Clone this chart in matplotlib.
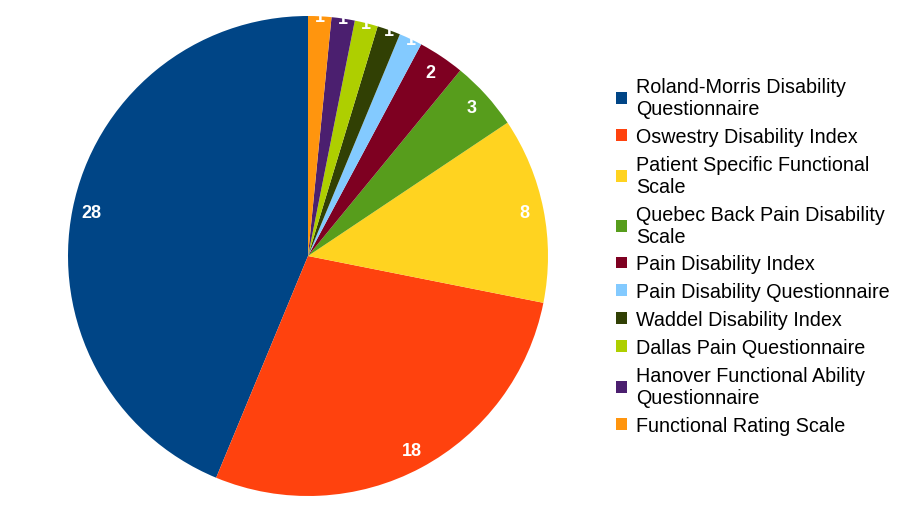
import numpy as np
import matplotlib
matplotlib.use('Agg')
import matplotlib.pyplot as plt
from matplotlib.patches import Patch

# Dados do gráfico
categorias = ['Roland-Morris Disability\nQuestionnaire', 'Oswestry Disability Index',
              'Patient Specific Functional\nScale', 'Quebec Back Pain Disability\nScale',
              'Pain Disability Index', 'Pain Disability Questionnaire',
              'Waddel Disability Index', 'Dallas Pain Questionnaire',
              'Hanover Functional Ability\nQuestionnaire', 'Functional Rating Scale']
valores = [28, 18, 8, 3, 2, 1, 1, 1, 1, 1]
cores = ['#004586', '#ff420e', '#ffd320', '#579d1c', '#7e0021',
         '#83caff', '#314004', '#aecf00', '#4b1f6f', '#ff950e']

plt.rcParams['font.family'] = ['Liberation Sans', 'DejaVu Sans']

fig = plt.figure(figsize=(9.08, 5.10), dpi=100)
ax = fig.add_axes([68/908, 13/510, 480/908, 480/510])

wedges, _ = ax.pie(valores, colors=cores, startangle=90, counterclock=True,
                   wedgeprops=dict(linewidth=0))
ax.set_xlim(-1, 1)
ax.set_ylim(-1, 1)
ax.set_aspect('equal')

# Rótulos dos valores dentro das fatias
for w, v in zip(wedges, valores):
    ang = np.deg2rad((w.theta1 + w.theta2) / 2)
    r = 1.0 if v == 1 else 0.92
    ax.text(r * np.cos(ang), r * np.sin(ang), str(v), color='white',
            fontsize=13, fontweight='bold', ha='center', va='center')

handles = [Patch(facecolor=c, edgecolor='none') for c in cores]
fig.legend(handles, categorias, loc='upper left', bbox_to_anchor=(616/908, 1 - 78/510),
           frameon=False, fontsize=14.2, handlelength=0.55, handleheight=0.55,
           handletextpad=0.45, labelspacing=0.45, borderaxespad=0, borderpad=0)

plt.savefig('out.png', dpi=100)
